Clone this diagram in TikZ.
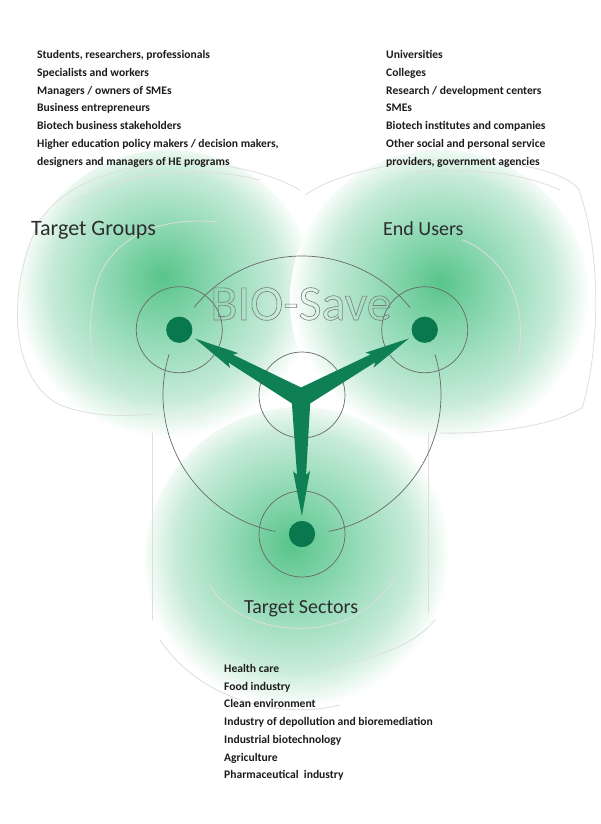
\documentclass[tikz,border=0pt]{standalone}
\usepackage{fontspec}
\setmainfont{Carlito}
\usetikzlibrary{calc}
\definecolor{arrowgreen}{RGB}{14,128,84}
\definecolor{dotgreen}{RGB}{10,120,78}
\definecolor{gA}{RGB}{88,196,138}
\definecolor{gB}{RGB}{112,205,156}
\definecolor{gC}{RGB}{152,220,186}
\definecolor{gD}{RGB}{198,235,215}
\definecolor{ringgray}{RGB}{105,105,105}
\definecolor{faintgray}{RGB}{222,222,222}
\definecolor{textdark}{RGB}{28,28,28}
\definecolor{labeldark}{RGB}{45,45,45}
\definecolor{bioline}{RGB}{125,125,125}
\pgfdeclareradialshading{glowL}{\pgfpoint{-1bp}{4bp}}{color(0bp)=(gA); color(4bp)=(gB); color(11bp)=(gC); color(19bp)=(gD); color(25bp)=(white); color(50bp)=(white)}
\pgfdeclareradialshading{glowR}{\pgfpoint{0bp}{3bp}}{color(0bp)=(gA); color(4bp)=(gB); color(11bp)=(gC); color(19bp)=(gD); color(25bp)=(white); color(50bp)=(white)}
\pgfdeclareradialshading{glowB}{\pgfpoint{-1.5bp}{3bp}}{color(0bp)=(gA); color(4bp)=(gB); color(11bp)=(gC); color(19bp)=(gD); color(25bp)=(white); color(50bp)=(white)}
\tikzset{
  listtext/.style={anchor=base west, inner sep=0pt, text=textdark, font=\fontsize{11.6pt}{13pt}\selectfont\bfseries},
  bigtext/.style={anchor=base west, inner sep=0pt, text=labeldark, font=\fontsize{20pt}{24pt}\selectfont},
  ring/.style={draw=ringgray, line width=0.7pt},
  faint/.style={draw=faintgray, line width=0.8pt, line cap=round},
  dotnode/.style={circle, fill=dotgreen, minimum size=26pt, inner sep=0pt}
}
\newcommand\bioarm[3]{%
  \coordinate (#3t) at ($(#2)!18pt!(#1)$);
  \coordinate (#3n) at ($(#3t)!41pt!(#1)$);
  \coordinate (#3b) at ($(#3t)!45pt!(#1)$);
  \fill[arrowgreen] ($(#1)!9.5pt!90:(#3t)$) -- ($(#3n)!4.5pt!90:(#3t)$) -- ($(#3b)!8.5pt!90:(#3t)$) -- (#3t)
     -- ($(#3b)!8.5pt!-90:(#3t)$) -- ($(#3n)!4.5pt!-90:(#3t)$) -- ($(#1)!9.5pt!-90:(#3t)$) -- cycle;
}
\begin{document}
\begin{tikzpicture}[x=1pt,y=-1pt]
\fill[white] (0,0) rectangle (600,824);
\useasboundingbox (0,0) rectangle (600,824);

% glows
\shade[shading=glowL] (168,300) circle (150pt);
\shade[shading=glowR] (440,300) circle (150pt);
\shade[shading=glowB] (300,562) circle (155pt);

% faint outlines
\draw[faint] (300,190) .. controls (230,150) and (90,150) .. (40,220) .. controls (5,290) and (10,380) .. (60,405) .. controls (95,418) and (130,416) .. (152,414);
\draw[faint] (305,195) .. controls (370,150) and (540,150) .. (578,188) .. controls (602,250) and (600,350) .. (582,408) .. controls (545,430) and (475,434) .. (440,433);
\draw[faint] (217,222) .. controls (150,215) and (105,245) .. (95,290) .. controls (88,320) and (90,350) .. (95,370);
\draw[faint] (463,240) .. controls (515,262) and (532,320) .. (513,380);
\draw[faint] (152,433) -- (152,620);
\draw[faint] (428,433) -- (428,613);
\draw[faint] (210,585) .. controls (240,640) and (360,650) .. (397,572);
\draw[faint] (160,640) .. controls (200,700) and (280,720) .. (340,705);
\draw[faint] (323,668) .. controls (360,662) and (410,650) .. (435,620);
\draw[faint] (417,172) .. controls (470,168) and (520,172) .. (560,190);
\draw[faint] (70,205) .. controls (120,170) and (200,165) .. (260,180);

% geometry
\coordinate (C) at (302,395);
\coordinate (hub) at (301,398);
\node[dotnode] (dotL) at ($(C)+(152:139pt)$) {};
\node[dotnode] (dotR) at ($(C)+(28:139pt)$) {};
\node[dotnode] (dotB) at ($(C)+(270:139pt)$) {};

% circles
\draw[ring] (C) circle (43pt);
\draw[ring] (dotL.center) circle (43pt);
\draw[ring] (dotR.center) circle (43pt);
\draw[ring] (dotB.center) circle (43pt);
\draw[ring] ($(C)+(39:139pt)$) arc[start angle=39, end angle=141, radius=139pt];
\draw[ring] ($(C)+(163:139pt)$) arc[start angle=163, end angle=259, radius=139pt];
\draw[ring] ($(C)+(281:139pt)$) arc[start angle=281, end angle=377, radius=139pt];

% BIO-Save outlined
\node[inner sep=0pt, anchor=base, text=bioline, font=\fontsize{50pt}{56pt}\selectfont] (bio) at (301,320)
  {\special{pdf:literal direct 1 Tr 0.6 w}BIO-Save\special{pdf:literal direct 0 Tr}};

% arrows
\bioarm{hub}{dotL.center}{aL}
\bioarm{hub}{dotR.center}{aR}
\bioarm{hub}{dotB.center}{aB}
\node[dotnode] at (dotL.center) {};
\node[dotnode] at (dotR.center) {};
\node[dotnode] at (dotB.center) {};

% labels
\node[bigtext, font=\fontsize{22pt}{26pt}\selectfont] (tg) at (31,235) {Target Groups};
\node[bigtext] (eu) at (383,235) {End Users};
\node[bigtext] (ts) at (244,613) {Target Sectors};

% lists
\foreach \t [count=\i] in {{Students, researchers, professionals},{Specialists and workers},{Managers / owners of SMEs},{Business entrepreneurs},{Biotech business stakeholders},{Higher education policy makers / decision makers,},{designers and managers of HE programs}}
  \node[listtext] (gl\i) at (37,{58.5+17.8*(\i-1)}) {\t};
\foreach \t [count=\i] in {{Universities},{Colleges},{Research / development centers},{SMEs},{Biotech institutes and companies},{Other social and personal service},{providers, government agencies}}
  \node[listtext] (ul\i) at (386,{58.5+17.8*(\i-1)}) {\t};
\foreach \t [count=\i] in {{Health care},{Food industry},{Clean environment},{Industry of depollution and bioremediation},{Industrial biotechnology},{Agriculture},{Pharmaceutical\ \ industry}}
  \node[listtext] (sl\i) at (224,{672.5+17.7*(\i-1)}) {\t};
\end{tikzpicture}
\end{document}
